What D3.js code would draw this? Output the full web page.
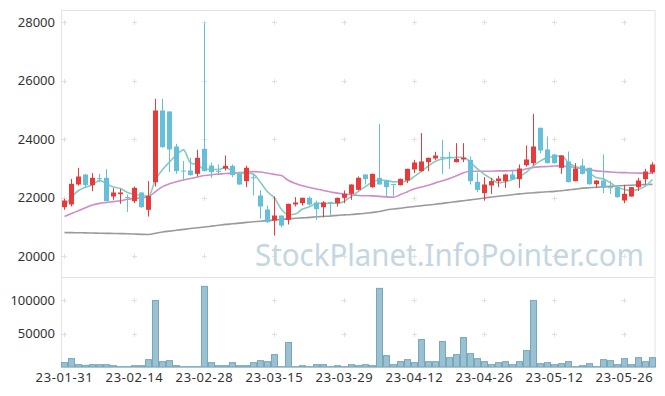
<!DOCTYPE html>
<html>
<head>
<meta charset="utf-8">
<script src="https://cdn.jsdelivr.net/npm/d3@7"></script>
<style>
  body { margin: 0; background: #fff; }
  text { font-family: "Noto Sans", sans-serif; }
</style>
</head>
<body>
<svg id="chart" width="665" height="396"></svg>
<script>
// DATA
const dates = [
  "23-01-31",
  "23-02-01", "23-02-02", "23-02-03", "23-02-06", "23-02-07", "23-02-08", "23-02-09", "23-02-10", "23-02-13", "23-02-14",
  "23-02-15", "23-02-16", "23-02-17", "23-02-20", "23-02-21", "23-02-22", "23-02-23", "23-02-24", "23-02-27", "23-02-28",
  "23-03-02", "23-03-03", "23-03-06", "23-03-07", "23-03-08", "23-03-09", "23-03-10", "23-03-13", "23-03-14", "23-03-15",
  "23-03-16", "23-03-17", "23-03-20", "23-03-21", "23-03-22", "23-03-23", "23-03-24", "23-03-27", "23-03-28", "23-03-29",
  "23-03-30", "23-03-31", "23-04-03", "23-04-04", "23-04-05", "23-04-06", "23-04-07", "23-04-10", "23-04-11", "23-04-12",
  "23-04-13", "23-04-14", "23-04-17", "23-04-18", "23-04-19", "23-04-20", "23-04-21", "23-04-24", "23-04-25", "23-04-26",
  "23-04-27", "23-04-28", "23-05-02", "23-05-03", "23-05-04", "23-05-08", "23-05-09", "23-05-10", "23-05-11", "23-05-12",
  "23-05-15", "23-05-16", "23-05-17", "23-05-18", "23-05-19", "23-05-22", "23-05-23", "23-05-24", "23-05-25", "23-05-26",
  "23-05-30", "23-05-31", "23-06-01", "23-06-02"
];

const opens = [
  21669, 21761, 22445, 22787, 22422, 22660, 22673, 22034, 22114, 22020,
  21875, 22171, 21578, 22523, 24975, 24941, 23744, 22920, 22923, 22809,
  23664, 23094, 22910, 22992, 23083, 22809, 22559, 22690, 22068, 21590,
  21213, 21384, 21236, 21761, 21806, 21989, 21829, 21669, 21840, 21806,
  21989, 22125, 22262, 22787, 22353, 22673, 22581, 22460, 22422, 22581,
  22958, 22901, 23208, 23334, 23390, 23390, 23208, 23300, 23288, 22536,
  22148, 22410, 22559, 22559, 22787, 22627, 23106, 23174, 24383, 23642,
  23471, 23015, 23231, 22559, 23094, 23015, 22456, 22581, 22350, 22353,
  21897, 22034, 22353, 22627, 22855
];

const highs = [
  21954, 22638, 23015, 22800, 22832, 22809, 22969, 22319, 22296, 22103,
  22376, 22190, 22559, 25375, 25374, 24950, 23835, 23250, 23357, 23630,
  27970, 23197, 23129, 23436, 23129, 22820, 23083, 22810, 22250, 21726,
  22034, 21390, 21790, 22011, 21995, 22034, 21897, 21875, 21850, 22000,
  22239, 22450, 22718, 22790, 22815, 24519, 22600, 22460, 22645, 22985,
  23288, 24200, 23365, 23562, 23972, 23562, 23858, 23858, 23402, 22855,
  22695, 22673, 22741, 22809, 22923, 23129, 23778, 24861, 24390, 24086,
  23480, 23440, 23573, 23174, 23322, 23020, 22590, 23471, 22559, 22360,
  22433, 22360, 22673, 22980, 23208
];

const lows = [
  21578, 21692, 22410, 22331, 22217, 22524, 21870, 21920, 21783, 21510,
  21806, 21647, 21350, 22376, 23699, 22866, 22809, 22581, 22750, 22718,
  22890, 22673, 22787, 22923, 22695, 22430, 22353, 22070, 21270, 21134,
  20700, 20985, 21077, 21692, 21726, 21726, 21236, 21327, 21350, 21692,
  21806, 21920, 22239, 22445, 22331, 22440, 22034, 22034, 22410, 22490,
  22832, 22878, 22901, 23288, 22800, 22980, 23200, 23208, 22445, 22182,
  21897, 22125, 22353, 22331, 22604, 22331, 23060, 23094, 23516, 23170,
  23151, 22809, 22520, 22550, 22787, 22433, 22331, 22148, 22125, 21989,
  21806, 22030, 22217, 22445, 22809
];

const closes = [
  21897, 22467, 22718, 22422, 22673, 22650, 21875, 22171, 22171, 22000,
  22331, 21669, 22057, 24975, 23721, 23642, 22901, 22910, 22764, 23357,
  22901, 22866, 22900, 23083, 22764, 22445, 23015, 22670, 21692, 21156,
  21384, 21042, 21783, 21829, 21989, 21761, 21601, 21829, 21829, 21989,
  22125, 22445, 22673, 22627, 22809, 22445, 22353, 22445, 22638, 22980,
  23197, 23231, 23357, 23436, 23380, 23380, 23322, 23357, 22559, 22262,
  22445, 22559, 22650, 22787, 22627, 22992, 23300, 23744, 23607, 23174,
  23174, 23436, 22524, 22992, 22809, 22456, 22581, 22331, 22330, 22011,
  22125, 22353, 22581, 22889, 23129
];

// closes of the 4 sessions before 23-01-31 (for the 5-day average)
const prevCloses = [20872, 21573, 21857, 22261];

const volumes = [
  6500, 12500, 3500, 2500, 3500, 3500, 3500, 2000, 500, 500,
  2000, 2000, 11000, 99500, 8000, 9500, 2000, 500, 500, 500,
  120500, 6500, 2000, 2000, 6500, 2000, 2000, 6500, 9500, 8000,
  18500, 500, 36500, 500, 2000, 500, 3500, 3500, 500, 2000,
  500, 3500, 2000, 3500, 2000, 117500, 17000, 3500, 8000, 11000,
  6500, 41000, 8000, 8000, 38000, 14000, 18500, 44000, 20000, 12500,
  8000, 3500, 6500, 8000, 3500, 8000, 24500, 99500, 5000, 6500,
  3500, 5000, 8000, 500, 2000, 5000, 500, 11000, 9500, 3500,
  12500, 3500, 14000, 8000, 14000
];

const ma20 = [
  21350, 21450, 21550, 21650, 21740, 21800, 21830, 21860, 21890, 21940,
  21970, 21990, 22030, 22200, 22370, 22470, 22540, 22600, 22650, 22700,
  22750, 22780, 22800, 22820, 22830, 22850, 22870, 22885, 22870, 22830,
  22790, 22750, 22580, 22480, 22400, 22340, 22290, 22240, 22190, 22150,
  22120, 22090, 22070, 22060, 22055, 22040, 22020, 22010, 22100, 22200,
  22300, 22360, 22420, 22500, 22570, 22650, 22740, 22850, 22900, 22900,
  22900, 22900, 22910, 22910, 22920, 22925, 22980, 23030, 23050, 23060,
  23075, 23080, 23050, 23030, 22990, 22950, 22910, 22890, 22870, 22855,
  22850, 22840, 22835, 22830, 22830
];

const ma60 = [
  20800, 20798, 20795, 20790, 20785, 20780, 20775, 20770, 20765, 20760,
  20750, 20740, 20735, 20780, 20820, 20850, 20880, 20910, 20940, 20965,
  20990, 21020, 21050, 21080, 21100, 21125, 21150, 21170, 21190, 21210,
  21230, 21250, 21270, 21290, 21305, 21320, 21340, 21355, 21370, 21390,
  21405, 21420, 21440, 21460, 21490, 21520, 21575, 21605, 21635, 21665,
  21695, 21720, 21745, 21770, 21800, 21830, 21860, 21890, 21920, 21950,
  21985, 22015, 22045, 22070, 22095, 22125, 22145, 22165, 22180, 22195,
  22210, 22230, 22260, 22285, 22320, 22335, 22350, 22365, 22380, 22395,
  22410, 22420, 22430, 22440, 22450
];

const priceTicks = [20000, 22000, 24000, 26000, 28000];
const volumeTicks = [50000, 100000];
const labelDates = dates.filter((_, i) => i % 10 === 0);

// UTILS
const allCloses = prevCloses.concat(closes);
const ma5 = closes.map((_, i) => d3.mean(allCloses.slice(i, i + 5)));

const candles = dates.map((d, i) => ({
  date: d, open: opens[i], high: highs[i], low: lows[i], close: closes[i], volume: volumes[i],
}));

// RENDER
const svg = d3.select("#chart");
const left = 61, right = 656;
const priceTop = 10, priceBottom = 277;
const volTop = 278, volBottom = 367;

const x = d3.scaleBand().domain(dates).range([left, right]).padding(0);
const cx = d => x(d) + x.bandwidth() / 2;
const y = d3.scaleLinear().domain([20000, 28000]).range([256, 22]);
const yVol = d3.scaleLinear().domain([0, 133000]).range([volBottom, volTop]);

const up = "#e83a3a";
const down = "#66bfd8";

// frames
svg.append("rect")
  .attr("x", left + 0.5).attr("y", priceTop + 0.5)
  .attr("width", right - left - 1.5).attr("height", volBottom - priceTop)
  .attr("fill", "none").attr("stroke", "#e3e3e3");
svg.append("line")
  .attr("x1", left).attr("x2", right - 1)
  .attr("y1", volTop - 0.5).attr("y2", volTop - 0.5)
  .attr("stroke", "#e3e3e3");

// grid crosses
const crosses = [];
labelDates.forEach(d => {
  priceTicks.forEach(v => crosses.push([cx(d), y(v)]));
  volumeTicks.forEach(v => crosses.push([cx(d), yVol(v)]));
});
svg.append("g").selectAll("path")
  .data(crosses)
  .join("path")
  .attr("d", p => `M${p[0] - 2.5},${Math.round(p[1]) + 0.5}h5M${p[0]},${Math.round(p[1]) - 2}v5`)
  .attr("stroke", "#e0e0e0")
  .attr("fill", "none");

// watermark
svg.append("text")
  .attr("x", 255).attr("y", 266)
  .attr("font-size", 31)
  .attr("textLength", 389)
  .attr("lengthAdjust", "spacingAndGlyphs")
  .attr("fill", "#c4d6e1")
  .text("StockPlanet.InfoPointer.com");

// moving averages
const line = d3.line()
  .x((_, i) => cx(dates[i]))
  .y(v => y(v))
  .curve(d3.curveMonotoneX);

[[ma60, "#9a9a9a"], [ma20, "#cf8cc9"], [ma5, "#86ccbd"]].forEach(([s, c]) => {
  svg.append("path")
    .attr("d", line(s))
    .attr("fill", "none")
    .attr("stroke", c)
    .attr("stroke-width", 1.6);
});

// candles
const candle = svg.append("g").selectAll("g")
  .data(candles)
  .join("g")
  .attr("fill", d => d.close >= d.open ? up : down)
  .attr("stroke", d => d.close >= d.open ? up : down);

candle.append("line")
  .attr("x1", d => cx(d.date)).attr("x2", d => cx(d.date))
  .attr("y1", d => y(d.high)).attr("y2", d => y(d.low))
  .attr("stroke-width", 1);

candle.append("rect")
  .attr("x", d => x(d.date) + 1)
  .attr("width", 5)
  .attr("y", d => y(Math.max(d.open, d.close)))
  .attr("height", d => Math.max(1, Math.abs(y(d.open) - y(d.close))))
  .attr("stroke", "none");

// volume
svg.append("g").selectAll("rect")
  .data(candles)
  .join("rect")
  .attr("x", d => x(d.date) + 0.5)
  .attr("width", x.bandwidth() - 1)
  .attr("y", d => yVol(d.volume))
  .attr("height", d => volBottom - yVol(d.volume))
  .attr("fill", "#99c1d2")
  .attr("stroke", "#78a7bb")
  .attr("stroke-width", 1);

// axes labels
const axisText = g => g.attr("font-size", 13).attr("fill", "#333");

svg.append("g").call(axisText)
  .selectAll("text")
  .data(priceTicks)
  .join("text")
  .attr("x", 55).attr("y", v => y(v))
  .attr("dy", "0.35em")
  .attr("text-anchor", "end")
  .text(v => v);

svg.append("g").call(axisText)
  .selectAll("text")
  .data(volumeTicks)
  .join("text")
  .attr("x", 55).attr("y", v => yVol(v))
  .attr("dy", "0.35em")
  .attr("text-anchor", "end")
  .text(v => v);

svg.append("g").call(axisText)
  .attr("letter-spacing", "0.6px")
  .selectAll("text")
  .data(labelDates)
  .join("text")
  .attr("x", d => cx(d)).attr("y", 382)
  .attr("text-anchor", "middle")
  .text(d => d);
</script>
</body>
</html>
